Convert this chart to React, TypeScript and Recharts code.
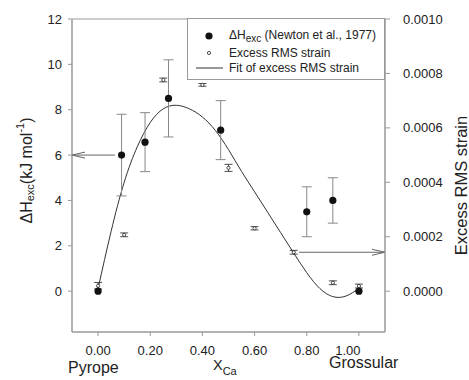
import React from "react";
import {
  ComposedChart,
  Scatter,
  Line,
  XAxis,
  YAxis,
  ErrorBar,
  ReferenceLine,
  ReferenceArea,
  Legend,
} from "recharts";

const FONT = "'Liberation Sans', Arial, sans-serif";
const INK = "#222";
const AXIS = "#999";

// Newton et al. (1977) excess enthalpy, kJ/mol
const newtonX = [0, 0.09, 0.18, 0.27, 0.47, 0.8, 0.9, 1.0];
const newtonH = [0, 6.0, 6.57, 8.5, 7.1, 3.5, 4.0, 0];
const newtonErr = [0, 1.8, 1.3, 1.7, 1.3, 1.1, 1.0, 0];

// excess RMS strain (right axis)
const strainX = [0, 0.1, 0.25, 0.4, 0.5, 0.6, 0.75, 0.9, 1.0];
const strainY = [0.00002, 0.000207, 0.000776, 0.000758, 0.000453, 0.000231, 0.000143, 0.000031, 0.000019];
const strainErr = [0.000012, 0.000007, 0.000007, 0.000005, 0.000013, 0.000006, 0.000007, 0.000007, 0.000007];

// fit of excess RMS strain
const fitX = [0, 0.05, 0.1, 0.15, 0.2, 0.25, 0.3, 0.35, 0.4, 0.45, 0.5, 0.55, 0.6, 0.65, 0.7, 0.75, 0.8, 0.85, 0.9, 0.95, 1.0];
const fitY = [
  0.00001, 0.00022, 0.0004, 0.00053, 0.00062, 0.00067, 0.000683, 0.00067, 0.00064, 0.00059, 0.00052,
  0.00044, 0.000365, 0.00029, 0.000215, 0.00014, 0.000068, 0.00001, -0.00002, -0.000018, 0.00001,
];

const xTicks = [0, 0.2, 0.4, 0.6, 0.8, 1.0];
const leftTicks = [0, 2, 4, 6, 8, 10, 12];
const rightTicks = [0, 0.0002, 0.0004, 0.0006, 0.0008, 0.001];

const newtonData = newtonX.map((x, i) => ({ x, y: newtonH[i], err: newtonErr[i] }));
const strainData = strainX.map((x, i) => ({ x, y: strainY[i], err: strainErr[i] }));
const fitData = fitX.map((x, i) => ({ x, y: fitY[i] }));

const tickStyle = { fontSize: 13, fill: INK, fontFamily: FONT };

const XTick = (p: any) => {
  const { x, y, payload } = p;
  const shift = payload.value === 1 ? -11 : 0; // label sits left of its tick in the original
  return (
    <text x={x + shift} y={y} dy="0.71em" textAnchor="middle" {...tickStyle}>
      {Number(payload.value).toFixed(2)}
    </text>
  );
};

const ArrowLeft = (p: any) => {
  const { x1, y1, x2, y2 } = p;
  return (
    <g stroke="#666" strokeWidth={1} fill="none">
      <line x1={x1} y1={y1} x2={x2} y2={y2} />
      <polyline points={`${x1 + 13},${y1 - 3} ${x1},${y1} ${x1 + 13},${y1 + 3}`} />
    </g>
  );
};

const ArrowRight = (p: any) => {
  const { x1, y1, x2, y2 } = p;
  return (
    <g stroke="#666" strokeWidth={1} fill="none">
      <line x1={x1} y1={y1} x2={x2} y2={y2} />
      <polyline points={`${x2 - 13},${y2 - 3} ${x2},${y2} ${x2 - 13},${y2 + 3}`} />
    </g>
  );
};

const LeftTitle = (p: any) => {
  const vb = p.viewBox;
  const cx = vb.x + 26;
  const cy = vb.y + vb.height / 2 - 5;
  return (
    <text
      x={cx}
      y={cy}
      transform={`rotate(-90, ${cx}, ${cy})`}
      textAnchor="middle"
      dominantBaseline="central"
      fontFamily={FONT}
      fontSize={16}
      fill={INK}
    >
      <tspan>ΔH</tspan>
      <tspan fontSize={11} dy={4}>exc</tspan>
      <tspan dy={-4}>(kJ mol</tspan>
      <tspan fontSize={11} dy={-6}>-1</tspan>
      <tspan dy={6}>)</tspan>
    </text>
  );
};

const RightTitle = (p: any) => {
  const vb = p.viewBox;
  const cx = vb.x + 76;
  const cy = vb.y + vb.height / 2 + 10;
  return (
    <text
      x={cx}
      y={cy}
      transform={`rotate(-90, ${cx}, ${cy})`}
      textAnchor="middle"
      dominantBaseline="central"
      fontFamily={FONT}
      fontSize={16.5}
      fill={INK}
    >
      Excess RMS strain
    </text>
  );
};

const BottomTitle = (p: any) => {
  const vb = p.viewBox;
  return (
    <g fontFamily={FONT} fill={INK}>
      <text x={vb.x - 4} y={vb.y + 41} fontSize={16}>
        Pyrope
      </text>
      <text x={vb.x + 141} y={vb.y + 38} fontSize={14.5}>
        X<tspan fontSize={11} dy={5}>Ca</tspan>
      </text>
      <text x={vb.x + 257} y={vb.y + 36} fontSize={16}>
        Grossular
      </text>
    </g>
  );
};

const LegendBox = () => {
  const row = (top: number): React.CSSProperties => ({
    position: "absolute",
    left: 0,
    top: top - 8,
    height: 16,
    display: "flex",
    alignItems: "center",
    whiteSpace: "nowrap",
  });
  const sym: React.CSSProperties = { width: 41, height: 16, flex: "none" };
  return (
    <div
      style={{
        position: "relative",
        width: 198,
        height: 62,
        border: `1px solid ${AXIS}`,
        boxSizing: "border-box",
        background: "#fff",
        fontFamily: FONT,
        fontSize: 12,
        color: INK,
      }}
    >
      <div style={row(17)}>
        <svg style={sym}>
          <circle cx={21} cy={8} r={3.6} fill="#111" />
        </svg>
        <span>
          ΔH<sub style={{ fontSize: 10, verticalAlign: "-3px" }}>exc</sub> (Newton et al., 1977)
        </span>
      </div>
      <div style={row(34)}>
        <svg style={sym}>
          <circle cx={21} cy={8} r={1.6} fill="#fff" stroke="#222" strokeWidth={0.8} />
        </svg>
        <span>Excess RMS strain</span>
      </div>
      <div style={row(49)}>
        <svg style={sym}>
          <line x1={8} y1={8} x2={35} y2={8} stroke="#333" strokeWidth={1} />
        </svg>
        <span>Fit of excess RMS strain</span>
      </div>
    </div>
  );
};

export default function App() {
  return (
    <div style={{ position: "absolute", left: 0, top: 0, width: 469, height: 380, background: "#fff" }}>
      <ComposedChart width={469} height={380} margin={{ top: 19, right: 0, bottom: 0, left: 0 }}>
        <XAxis
          dataKey="x"
          type="number"
          domain={[-0.1, 1.1]}
          ticks={xTicks}
          allowDataOverflow
          height={48}
          axisLine={{ stroke: AXIS }}
          tickLine={{ stroke: AXIS }}
          tickSize={4}
          tickMargin={10}
          tick={<XTick />}
          label={<BottomTitle />}
        />
        <YAxis
          yAxisId="left"
          type="number"
          domain={[-1.8, 12]}
          ticks={leftTicks}
          allowDataOverflow
          width={72}
          axisLine={{ stroke: AXIS }}
          tickLine={{ stroke: AXIS }}
          tickSize={4}
          tickMargin={6}
          tick={tickStyle}
          label={<LeftTitle />}
        />
        <YAxis
          yAxisId="right"
          orientation="right"
          type="number"
          domain={[-0.00015, 0.001]}
          ticks={rightTicks}
          allowDataOverflow
          width={84}
          axisLine={{ stroke: AXIS }}
          tickLine={{ stroke: AXIS }}
          tickSize={5}
          tickMargin={13}
          tick={tickStyle}
          tickFormatter={(v: number) => v.toFixed(4)}
          label={<RightTitle />}
        />
        <ReferenceArea
          yAxisId="left"
          x1={-0.1}
          x2={1.1}
          y1={-1.8}
          y2={12}
          fill="none"
          stroke={AXIS}
          ifOverflow="visible"
        />
        <ReferenceLine
          yAxisId="left"
          segment={[
            { x: -0.1, y: 6 },
            { x: 0.065, y: 6 },
          ]}
          ifOverflow="visible"
          shape={(p: any) => <ArrowLeft {...p} />}
        />
        <ReferenceLine
          yAxisId="right"
          segment={[
            { x: 0.77, y: 0.000143 },
            { x: 1.1, y: 0.000143 },
          ]}
          ifOverflow="visible"
          shape={(p: any) => <ArrowRight {...p} />}
        />
        <Line
          yAxisId="right"
          data={fitData}
          dataKey="y"
          type="natural"
          stroke="#333"
          strokeWidth={1}
          dot={false}
          activeDot={false}
          isAnimationActive={false}
        />
        <Scatter
          yAxisId="left"
          data={newtonData}
          dataKey="y"
          isAnimationActive={false}
          shape={(p: any) => <circle cx={p.cx} cy={p.cy} r={3.6} fill="#111" />}
        >
          <ErrorBar dataKey="err" direction="y" width={5} stroke="#888" strokeWidth={1} isAnimationActive={false} />
        </Scatter>
        <Scatter
          yAxisId="right"
          data={strainData}
          dataKey="y"
          isAnimationActive={false}
          shape={(p: any) => <circle cx={p.cx} cy={p.cy} r={1.6} fill="#fff" stroke="#222" strokeWidth={0.8} />}
        >
          <ErrorBar dataKey="err" direction="y" width={4} stroke="#222" strokeWidth={0.8} isAnimationActive={false} />
        </Scatter>
        <Legend
          layout="vertical"
          align="center"
          verticalAlign="middle"
          content={() => <LegendBox />}
          wrapperStyle={{ position: "absolute", left: 187, top: 18, width: 198, height: 62 }}
        />
      </ComposedChart>
    </div>
  );
}
